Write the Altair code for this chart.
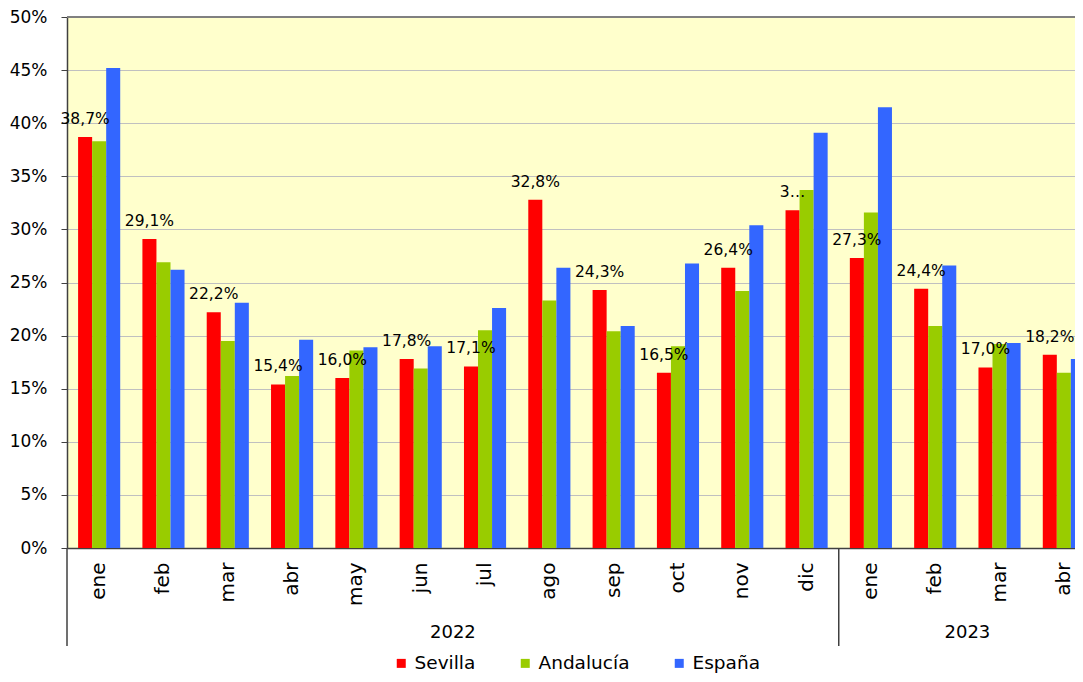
import altair as alt
import pandas as pd

months = ["ene", "feb", "mar", "abr", "may", "jun", "jul", "ago", "sep", "oct", "nov", "dic",
          "ene", "feb", "mar", "abr"]
years = ["2022"] * 12 + ["2023"] * 4
series = ["Sevilla", "Andalucía", "España"]
colors = ["#FF0000", "#99CC00", "#3366FF"]

sevilla = [38.7, 29.1, 22.2, 15.4, 16.0, 17.8, 17.1, 32.8, 24.3, 16.5, 26.4, 31.8,
           27.3, 24.4, 17.0, 18.2]
andalucia = [38.3, 26.9, 19.5, 16.2, 18.6, 16.9, 20.5, 23.3, 20.4, 19.0, 24.2, 33.7,
             31.6, 20.9, 19.2, 16.5]
espana = [45.2, 26.2, 23.1, 19.6, 18.9, 19.0, 22.6, 26.4, 20.9, 26.8, 30.4, 39.1,
          41.5, 26.6, 19.3, 17.8]

labels = [f"{v:.1f}".replace(".", ",") + "%" for v in sevilla]
labels[11] = "3…"  # truncated in the original

keys = [f"{y}-{m}" for y, m in zip(years, months)]

rows = []
for i, k in enumerate(keys):
    for s, vals in zip(series, [sevilla, andalucia, espana]):
        rows.append({"key": k, "serie": s, "v": vals[i]})
df = pd.DataFrame(rows)

lab_df = pd.DataFrame({"key": keys, "serie": ["Sevilla"] * len(keys), "v": sevilla, "label": labels})
year_df = pd.DataFrame({"key": ["2022-jun", "2023-feb"], "year": ["2022", "2023"]})
sep_df = pd.DataFrame({"key": ["2022-dic"]})
one_df = pd.DataFrame({"a": [0]})

W = 1029
H = 531
TOP = 9
FONT = "DejaVu Sans"

xscale = alt.Scale(paddingInner=0.345, paddingOuter=0.1725)
yscale = alt.Scale(domain=[0, 50], nice=False)

x_main = alt.X(
    "key:N", sort=keys, scale=xscale, title=None,
    axis=alt.Axis(
        labelExpr="split(datum.value, '-')[1]", labelAngle=-90, ticks=False,
        labelPadding=14, labelFontSize=20, labelFont=FONT, labelColor="#000000",
        domainColor="#404040", domainWidth=1.5, grid=False,
    ),
)

bars = alt.Chart(df).mark_bar().encode(
    x=x_main,
    xOffset=alt.XOffset("serie:N", sort=series, scale=alt.Scale(paddingInner=0, paddingOuter=0)),
    y=alt.Y(
        "v:Q", scale=yscale, title=None,
        axis=alt.Axis(
            values=list(range(0, 51, 5)), labelExpr="datum.value + '%'",
            tickSize=6, labelPadding=14, labelFontSize=17, labelFont=FONT,
            labelColor="#000000", domainColor="#404040", domainWidth=1.5,
            tickColor="#404040", gridColor="#C0C0C0", gridWidth=1,
        ),
    ),
    color=alt.Color(
        "serie:N", sort=series, scale=alt.Scale(domain=series, range=colors),
        legend=alt.Legend(
            orient="none", legendX=325, legendY=H + 106, direction="horizontal", title=None,
            symbolType="square", symbolSize=81, symbolStrokeWidth=0, symbolOpacity=1,
            labelFontSize=18.5, labelFont=FONT, labelColor="#000000", labelOffset=4,
            columnPadding=40, padding=0, labelLimit=300,
        ),
    ),
)

texts = alt.Chart(lab_df).mark_text(
    font=FONT, fontSize=15.5, color="#000000", baseline="alphabetic", dy=-13
).encode(
    x=alt.X("key:N", sort=keys, title=None),
    xOffset=alt.XOffset("serie:N", sort=series),
    y=alt.Y("v:Q", title=None),
    text="label:N",
)

year_text = alt.Chart(year_df).mark_text(
    font=FONT, fontSize=18, color="#000000", baseline="middle", align="center", dx=11.1
).encode(
    x=alt.X("key:N", sort=keys, title=None, bandPosition=1),
    y=alt.value(H + 85),
    text="year:N",
)

sep_rule = alt.Chart(sep_df).mark_rule(color="#404040", strokeWidth=1.5, xOffset=11.1).encode(
    x=alt.X("key:N", sort=keys, title=None, bandPosition=1),
    y=alt.value(H),
    y2=alt.value(H + 98),
)

left_rule = alt.Chart(one_df).mark_rule(color="#404040", strokeWidth=1.5).encode(
    x=alt.value(0), y=alt.value(H), y2=alt.value(H + 98)
)

top_rule = alt.Chart(one_df).mark_rule(color="#808080", strokeWidth=2).encode(
    x=alt.value(0), x2=alt.value(W), y=alt.value(0)
)

chart = alt.layer(bars, texts, year_text, sep_rule, left_rule, top_rule).properties(
    width=W, height=H,
    autosize=alt.AutoSizeParams(type="none"),
    padding={"left": 59, "top": TOP, "right": -21, "bottom": 126},
).configure_view(stroke=None, fill="#FFFFCC")

chart.save("out.html", embed_options={"renderer": "svg", "actions": False})
